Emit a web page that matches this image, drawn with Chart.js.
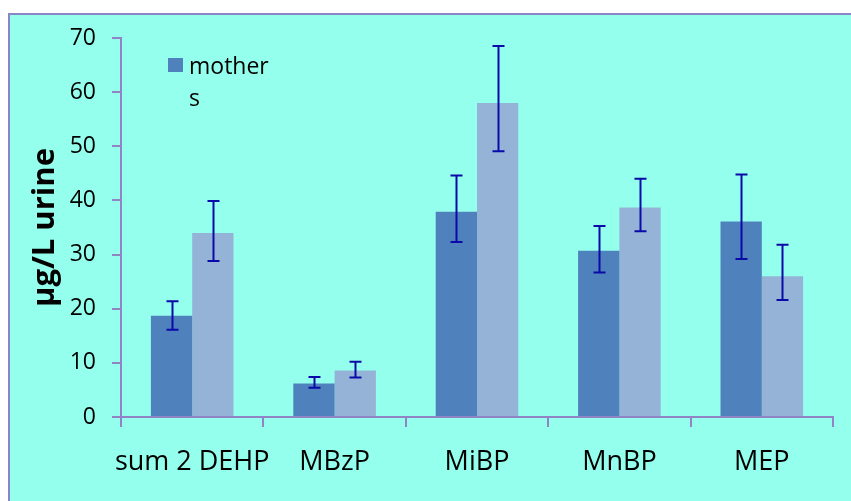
<!DOCTYPE html>
<html>
<head>
<meta charset="utf-8">
<script src="https://cdn.jsdelivr.net/npm/chart.js@4/dist/chart.umd.min.js"></script>
<style>
  html, body { margin: 0; padding: 0; background: #fff; }
  #wrap { width: 851px; height: 501px; }
</style>
</head>
<body>
<div id="wrap"><canvas id="chart" width="851" height="501"></canvas></div>
<script>
const categories = ['sum 2 DEHP', 'MBzP', 'MiBP', 'MnBP', 'MEP'];
const mothers = [18.7, 6.2, 37.9, 30.7, 36.1];
const mothersLow = [16.1, 5.4, 32.3, 26.7, 29.2];
const mothersHigh = [21.4, 7.4, 44.6, 35.3, 44.8];
const children = [34.0, 8.6, 58.0, 38.7, 26.0];
const childrenLow = [28.8, 7.3, 49.1, 34.3, 21.6];
const childrenHigh = [39.9, 10.2, 68.5, 44.0, 31.8];
const yTicks = [0, 10, 20, 30, 40, 50, 60, 70];

const axisColor = '#9084c4';
const font = "'Open Sans', sans-serif";

// panel background with border
const panel = {
  id: 'panel',
  beforeDraw(chart) {
    const ctx = chart.ctx;
    ctx.save();
    ctx.fillStyle = '#ffffff';
    ctx.fillRect(0, 0, chart.width, chart.height);
    ctx.fillStyle = '#94ffec';
    ctx.fillRect(8, 13, chart.width, chart.height);
    ctx.strokeStyle = '#8a86c6';
    ctx.lineWidth = 2;
    ctx.strokeRect(9, 14, chart.width + 10, chart.height + 10);
    ctx.restore();
  }
};

// error bars for both series
const errorBars = {
  id: 'errorBars',
  afterDatasetsDraw(chart) {
    const ctx = chart.ctx;
    const y = chart.scales.y;
    const ranges = [[mothersLow, mothersHigh], [childrenLow, childrenHigh]];
    ctx.save();
    ctx.strokeStyle = '#0a0aa8';
    ctx.lineWidth = 2;
    ranges.forEach(([lo, hi], i) => {
      chart.getDatasetMeta(i).data.forEach((bar, j) => {
        const x = Math.round(bar.x) + 0.5;
        const top = y.getPixelForValue(hi[j]);
        const bot = y.getPixelForValue(lo[j]);
        ctx.beginPath();
        ctx.moveTo(x, top); ctx.lineTo(x, bot);
        ctx.moveTo(x - 6, top); ctx.lineTo(x + 6, top);
        ctx.moveTo(x - 6, bot); ctx.lineTo(x + 6, bot);
        ctx.stroke();
      });
    });
    ctx.restore();
  }
};

// legend: only the first series, text wrapped as in the original
const legendBox = {
  id: 'legendBox',
  afterDraw(chart) {
    const ctx = chart.ctx;
    ctx.save();
    ctx.fillStyle = '#4f81bd';
    ctx.fillRect(168, 58, 15, 14);
    ctx.fillStyle = '#000';
    ctx.font = '23px ' + font;
    ctx.textBaseline = 'alphabetic';
    ctx.textAlign = 'left';
    ctx.fillText('mother', 189, 74);
    ctx.fillText('s', 189, 106);
    ctx.restore();
  }
};

new Chart(document.getElementById('chart'), {
  type: 'bar',
  data: {
    labels: categories,
    datasets: [
      { label: 'mothers', data: mothers, backgroundColor: '#4f81bd',
        categoryPercentage: 0.58, barPercentage: 1.0 },
      { label: 'children', data: children, backgroundColor: '#95b3d7',
        categoryPercentage: 0.58, barPercentage: 1.0 }
    ]
  },
  options: {
    responsive: false,
    animation: false,
    layout: { padding: { left: 0, top: 38, right: 18, bottom: 0 } },
    plugins: {
      legend: { display: false },
      tooltip: { enabled: false }
    },
    scales: {
      x: {
        grid: { drawOnChartArea: false, color: axisColor, lineWidth: 2, tickLength: 10, offset: true },
        border: { color: axisColor, width: 2 },
        ticks: { color: '#000', font: { family: font, size: 27 }, padding: 19, maxRotation: 0, autoSkip: false },
        afterFit(scale) { scale.height = 84; }
      },
      y: {
        min: 0, max: 70,
        afterBuildTicks(scale) { scale.ticks = yTicks.map(v => ({ value: v })); },
        grid: { drawOnChartArea: false, color: axisColor, lineWidth: 2, tickLength: 9 },
        border: { color: axisColor, width: 2 },
        ticks: { color: '#000', font: { family: font, size: 23 }, padding: 16 },
        title: {
          display: true, text: 'µg/L urine', color: '#000',
          font: { family: font, size: 31, weight: 'bold' },
          padding: { top: 27, bottom: 0 }
        },
        afterFit(scale) { scale.width = 121; }
      }
    }
  },
  plugins: [panel, errorBars, legendBox]
});
</script>
</body>
</html>
